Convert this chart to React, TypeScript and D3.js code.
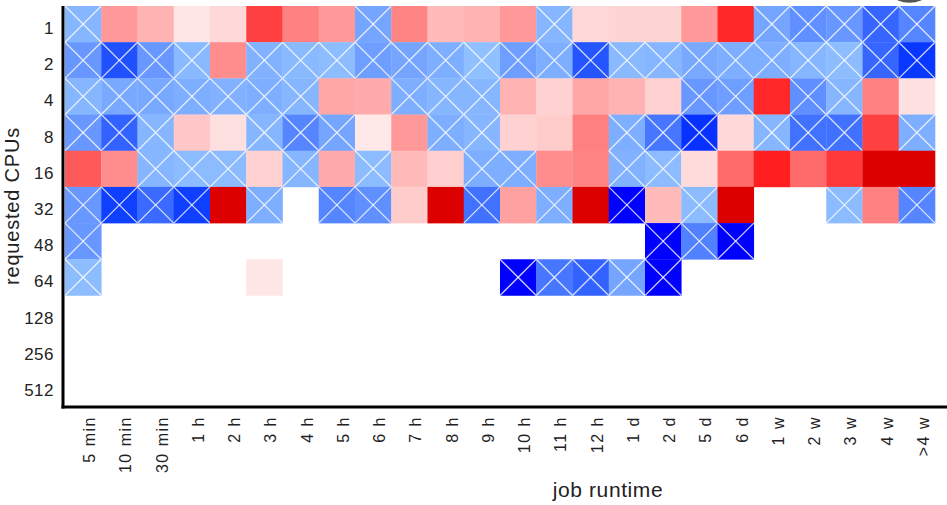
import React from "react";
import * as d3 from "d3";

const runtimes = ["5 min","10 min","30 min","1 h","2 h","3 h","4 h","5 h","6 h","7 h","8 h","9 h","10 h","11 h","12 h","1 d","2 d","5 d","6 d","1 w","2 w","3 w","4 w",">4 w"];
const cpus = ["1","2","4","8","16","32","48","64","128","256","512"];

// signed intensity: positive = red (solid), negative = blue (hatched), null = empty
const N = null;
const cpu1 = [-0.22,0.4,0.3,0.1,0.15,0.75,0.5,0.4,-0.35,0.48,0.27,0.3,0.4,-0.22,0.15,0.17,0.17,0.4,0.85,-0.35,-0.5,-0.45,-0.7,-0.55];
const cpu2 = [-0.45,-0.8,-0.45,-0.2,0.45,-0.25,-0.2,-0.17,-0.4,-0.35,-0.28,-0.15,-0.4,-0.28,-0.78,-0.2,-0.22,-0.32,-0.28,-0.28,-0.22,-0.17,-0.7,-0.92];
const cpu4 = [-0.22,-0.32,-0.32,-0.28,-0.25,-0.28,-0.22,0.35,0.33,-0.28,-0.22,-0.22,0.3,0.18,0.35,0.3,0.18,-0.45,-0.4,0.85,-0.5,-0.22,0.5,0.12];
const cpu8 = [-0.45,-0.72,-0.22,0.22,0.12,-0.22,-0.55,-0.35,0.09,0.4,-0.28,-0.22,0.18,0.2,0.5,-0.28,-0.62,-0.93,0.15,-0.22,-0.65,-0.65,0.75,-0.28];
const cpu16 = [0.65,0.45,-0.22,-0.18,-0.18,0.18,-0.22,0.33,-0.18,0.27,0.19,-0.28,-0.28,0.45,0.48,-0.25,-0.18,0.14,0.58,0.88,0.58,0.78,1.0,1.0];
const cpu32 = [-0.45,-0.88,-0.68,-0.88,1.0,-0.28,N,-0.55,-0.5,0.2,1.0,-0.65,0.37,-0.28,1.0,-1.0,0.27,-0.18,1.0,N,N,-0.18,0.5,-0.55];
const cpu48 = [-0.45,N,N,N,N,N,N,N,N,N,N,N,N,N,N,N,-1.0,-0.57,-1.0,N,N,N,N,N];
const cpu64 = [-0.17,N,N,N,N,0.1,N,N,N,N,N,N,-1.0,-0.62,-0.72,-0.35,-1.0,N,N,N,N,N,N,N];
const cpu128 = runtimes.map(() => N);
const cpu256 = runtimes.map(() => N);
const cpu512 = runtimes.map(() => N);

const grid = [cpu1, cpu2, cpu4, cpu8, cpu16, cpu32, cpu48, cpu64, cpu128, cpu256, cpu512];

const redScale = d3.scaleLinear<string>().domain([0, 0.9, 1]).range(["#ffffff", "#ff1a1a", "#dd0000"]).clamp(true);
const blueScale = d3.scaleLinear<string>().domain([0, 0.15, 0.5, 0.92, 1]).range(["#98c8ff", "#90c0ff", "#6090ff", "#0838ff", "#0000ff"]).clamp(true);

const FONT = "'Liberation Sans', Arial, sans-serif";

export default function App() {
  const W = 947, H = 505;
  const x = d3.scaleBand().domain(runtimes).range([65, 935]).padding(0);
  const y = d3.scaleBand().domain(cpus).range([6, 404]).padding(0);
  const bw = x.bandwidth(), bh = y.bandwidth();

  const cells: any[] = [];
  grid.forEach((row, ri) => {
    row.forEach((v, ci) => {
      if (v === null || v === undefined) return;
      const x0 = x(runtimes[ci])!, y0 = y(cpus[ri])!;
      const fill = v >= 0 ? redScale(v) : blueScale(-v);
      cells.push(
        <g key={`${ri}-${ci}`}>
          <rect x={x0} y={y0} width={bw + 0.3} height={bh + 0.3} fill={fill} />
          {v < 0 && (
            <g stroke="#ffffff" strokeOpacity={0.8} strokeWidth={1.3}>
              <line x1={x0} y1={y0} x2={x0 + bw} y2={y0 + bh} />
              <line x1={x0 + bw} y1={y0} x2={x0} y2={y0 + bh} />
            </g>
          )}
        </g>
      );
    });
  });

  return (
    <svg width={W} height={H} style={{ position: "absolute", left: 0, top: 0, background: "#fff" }}>
      <rect width={W} height={H} fill="#ffffff" />
      {cells}
      {/* axes */}
      <line x1={63} y1={6} x2={63} y2={408.5} stroke="#000" strokeWidth={3} />
      <line x1={61.5} y1={407} x2={947} y2={407} stroke="#000" strokeWidth={3} />
      {/* y ticks */}
      {cpus.map((c) => (
        <text key={c} x={54} y={y(c)! + bh / 2 + 10} textAnchor="end" fontFamily={FONT} fontSize={17} letterSpacing={0.5} fill="#222">{c}</text>
      ))}
      {/* x ticks */}
      {runtimes.map((r) => {
        const cx = x(r)! + bw / 2 + 12;
        return (
          <text key={r} transform={`translate(${cx},416) rotate(-90)`} textAnchor="end" fontFamily={FONT} fontSize={16} letterSpacing={1.5} fill="#222">{r}</text>
        );
      })}
      <text x={608} y={497} textAnchor="middle" fontFamily={FONT} fontSize={21} letterSpacing={0.6} fill="#222">job runtime</text>
      <text transform={`translate(19,206) rotate(-90)`} textAnchor="middle" fontFamily={FONT} fontSize={20} letterSpacing={0.8} fill="#222">requested CPUs</text>
      <circle cx={909.5} cy={-27.3} r={30} fill="#555" />
    </svg>
  );
}
